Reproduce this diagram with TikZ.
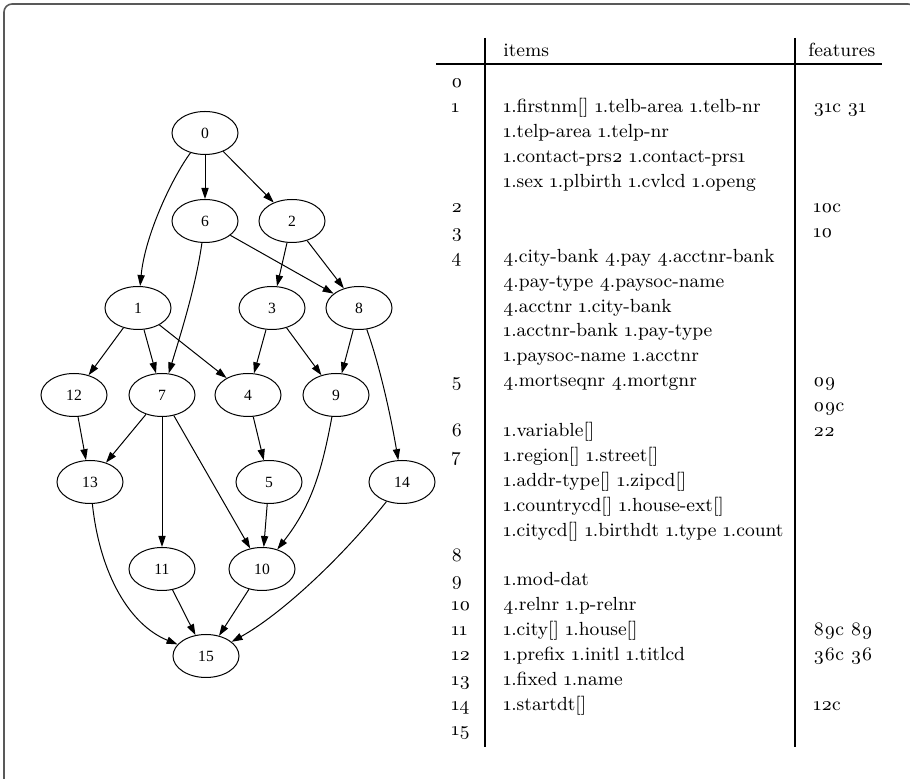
\documentclass[tikz,border=0pt]{standalone}
\usepackage{fontspec}
\setmainfont{Latin Modern Roman}[Numbers=OldStyle]
\newfontfamily\gvfont{Liberation Serif}
\usetikzlibrary{arrows.meta,shapes.geometric}
\begin{document}
\begin{tikzpicture}[x=0.5pt,y=-0.5pt,
  gnode/.style={ellipse,draw,line width=0.5pt,inner sep=0pt,minimum width=33pt,minimum height=21.5pt,font=\gvfont\fontsize{7.8}{9}\selectfont},
  gedge/.style={-{Triangle[length=5.5pt,width=3.6pt]},line width=0.5pt},
  cell/.style={anchor=base west,inner sep=0pt,font=\fontsize{9.5}{12}\selectfont},
  tabrule/.style={line width=0.9pt},
  frame/.style={draw=black!65,line width=0.8pt,rounded corners=4pt}
]
\useasboundingbox (0,0) rectangle (910,779);
\draw[frame] (4,4) rectangle (916,800);

% graph nodes
\node[gnode] (n0) at (205,133) {0};
\node[gnode] (n6) at (205,221) {6};
\node[gnode] (n2) at (292,221) {2};
\node[gnode] (n1) at (138,308) {1};
\node[gnode] (n3) at (272,308) {3};
\node[gnode] (n8) at (359,308) {8};
\node[gnode] (n12) at (74,395) {12};
\node[gnode] (n7) at (162,395) {7};
\node[gnode] (n4) at (248,395) {4};
\node[gnode] (n9) at (336,395) {9};
\node[gnode] (n13) at (90,482) {13};
\node[gnode] (n5) at (269,482) {5};
\node[gnode] (n14) at (402,482) {14};
\node[gnode] (n11) at (162,569) {11};
\node[gnode] (n10) at (262,569) {10};
\node[gnode] (n15) at (206,656) {15};

% graph edges
\draw[gedge] (n0) .. controls (172,178) and (145,235) .. (n1);
\draw[gedge] (n0) -- (n6);
\draw[gedge] (n0) -- (n2);
\draw[gedge] (n6) -- (n8);
\draw[gedge] (n6) .. controls (196,285) and (182,330) .. (n7);
\draw[gedge] (n2) -- (n3);
\draw[gedge] (n2) -- (n8);
\draw[gedge] (n1) -- (n12);
\draw[gedge] (n1) -- (n7);
\draw[gedge] (n1) -- (n4);
\draw[gedge] (n3) -- (n4);
\draw[gedge] (n3) -- (n9);
\draw[gedge] (n8) -- (n9);
\draw[gedge] (n8) .. controls (376,355) and (388,400) .. (n14);
\draw[gedge] (n12) -- (n13);
\draw[gedge] (n7) -- (n13);
\draw[gedge] (n7) -- (n11);
\draw[gedge] (n7) -- (n10);
\draw[gedge] (n4) -- (n5);
\draw[gedge] (n9) .. controls (322,470) and (312,505) .. (n10);
\draw[gedge] (n5) -- (n10);
\draw[gedge] (n13) .. controls (100,575) and (130,625) .. (n15);
\draw[gedge] (n11) -- (n15);
\draw[gedge] (n10) -- (n15);
\draw[gedge] (n14) .. controls (340,560) and (280,615) .. (n15);

% table rules
\draw[tabrule] (485,38) -- (485,747);
\draw[tabrule] (795,38) -- (795,747);
\draw[tabrule] (436,64) -- (882,64);

% header
\node[cell] (hitems) at (503,57) {items};
\node[cell] (hfeat) at (808,57) {features};

% row numbers
\foreach \k/\t in {0/0,1/1,5/2,6/3,7/4,12/5,14/6,15/7,19/8,20/9,21/10,22/11,23/12,24/13,25/14,26/15}
  \node[cell] (num\k) at (451,{88+24.9*\k}) {\t};

% items
\foreach \k/\t in {
  1/{1.firstnm[] 1.telb-area 1.telb-nr},
  2/{1.telp-area 1.telp-nr},
  3/{1.contact-prs2 1.contact-prs1},
  4/{1.sex 1.plbirth 1.cvlcd 1.openg},
  7/{4.city-bank 4.pay 4.acctnr-bank},
  8/{4.pay-type 4.paysoc-name},
  9/{4.acctnr 1.city-bank},
  10/{1.acctnr-bank 1.pay-type},
  11/{1.paysoc-name 1.acctnr},
  12/{4.mortseqnr 4.mortgnr},
  14/{1.variable[]},
  15/{1.region[] 1.street[]},
  16/{1.addr-type[] 1.zipcd[]},
  17/{1.countrycd[] 1.house-ext[]},
  18/{1.citycd[] 1.birthdt 1.type 1.count},
  20/{1.mod-dat},
  21/{4.relnr 1.p-relnr},
  22/{1.city[] 1.house[]},
  23/{1.prefix 1.initl 1.titlcd},
  24/{1.fixed 1.name},
  25/{1.startdt[]}}
  \node[cell] (item\k) at (503,{88+24.9*\k}) {\t};

% features
\foreach \k/\t in {1/{31c 31},5/{10c},6/{10},12/{09},13/{09c},14/{22},22/{89c 89},23/{36c 36},25/{12c}}
  \node[cell] (feat\k) at (813,{88+24.9*\k}) {\t};
\end{tikzpicture}
\end{document}
